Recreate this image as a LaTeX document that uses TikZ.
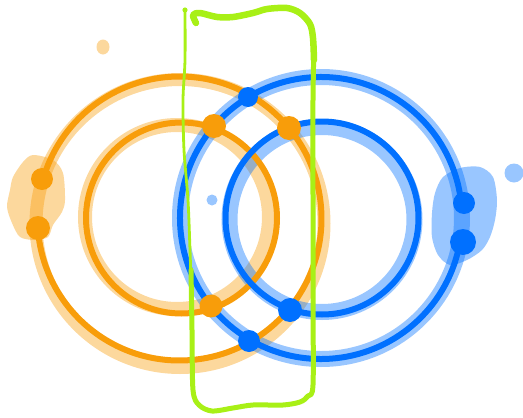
\documentclass[tikz,border=0pt]{standalone}
\usepackage{xcolor}
\usepackage{tikz}

\definecolor{ringorange}{RGB}{248,157,10}
\definecolor{ringblue}{RGB}{0,112,255}
\definecolor{markgreen}{RGB}{168,240,22}

\begin{document}
\begin{tikzpicture}[
    x=1pt, y=-1pt,
    halo/.style={line width=14pt, opacity=0.4},
    ring/.style={line width=6pt},
    blob/.style={opacity=0.4},
    odot/.style={circle, fill=ringorange, inner sep=0pt, minimum size=24pt},
    bdot/.style={circle, fill=ringblue, inner sep=0pt, minimum size=22pt},
    pen/.style={draw=markgreen, line width=5pt, line cap=round, line join=round}
]
\useasboundingbox (0,0) rectangle (523,418);

% centres of the rings and their shadows
\coordinate (obig) at (179.5,218.5);
\coordinate (ohalo) at (180,223.5);
\coordinate (osmall) at (181.5,218);
\coordinate (oshalo) at (177,217);
\coordinate (bbig) at (321,218);
\coordinate (bsmall) at (322,218);
\coordinate (bshalo) at (322,219.5);

% light shadows
\draw[halo, ringorange, line width=13pt] (ohalo) circle[radius=144pt];
\draw[halo, ringorange] (oshalo) circle[radius=92pt];
\draw[halo, ringblue, line width=16pt] (bbig) circle[radius=141pt];
\draw[halo, ringblue, line width=16pt] (bshalo) circle[radius=92.5pt];

% smudges
\fill[blob, ringorange] plot[smooth cycle] coordinates {(33,155) (53,160) (63,173) (65,200) (62,212) (53,225) (48,237) (35,240) (20,237) (12,223) (7,207) (10,190) (13,177) (23,162)};
\fill[blob, ringblue] plot[smooth cycle] coordinates {(443,177) (460,168) (480,167) (493,177) (497,200) (495,220) (490,237) (482,250) (467,260) (450,265) (438,255) (432,237) (432,213) (435,193)};
\fill[blob, ringorange] (103,47) ellipse[x radius=6.5pt, y radius=7.5pt];
\fill[blob, ringblue] (212,200) circle[radius=5.5pt];
\fill[blob, ringblue] (514,173) circle[radius=9.5pt];

% rings
\draw[ring, ringorange] (obig) ++(183.8:142pt) arc[start angle=183.8, end angle=524.4, radius=142pt];
\draw[ring, ringorange] (osmall) circle[radius=95.5pt];
\draw[ring, ringblue] (bbig) ++(6:141pt) arc[start angle=6, end angle=350.4, radius=141pt];
\draw[ring, ringblue] (bsmall) circle[radius=96.5pt];

% crossing points
\node[bdot, minimum size=20pt] (btop) at (248,97) {};
\node[odot] (oleft) at (214,126) {};
\node[odot] (oright) at (289,128) {};
\node[odot, minimum size=23pt] (olow) at (211,306) {};
\node[bdot, minimum size=24pt] (bmid) at (290,310) {};
\node[bdot] (blow) at (249,341) {};

% side points
\node[odot, minimum size=22pt] (oside1) at (42,179) {};
\node[odot] (oside2) at (38,228) {};
\node[bdot] (bside1) at (464,203) {};
\node[bdot, minimum size=26pt] (bside2) at (463,242) {};

% green box
\draw[pen, line width=2.8pt] plot[smooth] coordinates {(185,10) (185,60) (183,100) (184,150) (188,200) (190,250) (191,280)};
\fill[markgreen] (185,10) circle[radius=2.6pt];
\draw[pen] plot[smooth, tension=0.5] coordinates {(191,270) (192,330) (193,390) (199,405) (212,411) (233,408) (253,405) (283,405) (300,402) (308,396) (313,385) (313,300) (313,200) (313,100) (314,45)};
\draw[pen, line width=6.5pt] plot[smooth, tension=0.5] coordinates {(314,60) (313,38) (310,24) (300,13) (287,8) (267,9) (253,13) (233,17) (217,17) (200,13) (193,15) (196,23)};

\end{tikzpicture}
\end{document}
